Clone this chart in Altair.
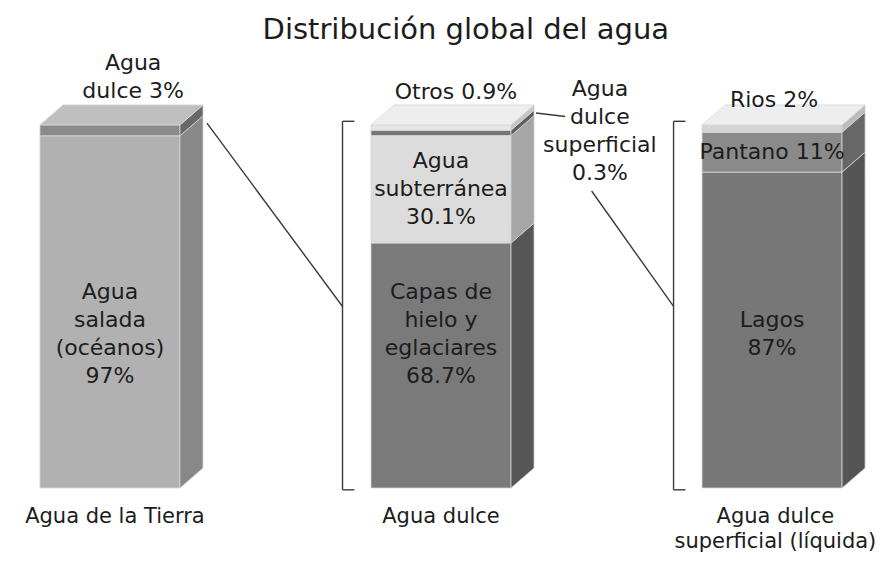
import altair as alt
import pandas as pd

# ---------------- data ----------------
bar_names = ["Agua de la Tierra", "Agua dulce", "Agua dulce\nsuperficial (líquida)"]
seg_bar = [0, 0, 1, 1, 1, 1, 2, 2, 2]
seg_names = ["Agua salada (océanos)", "Agua dulce", "Capas de hielo y eglaciares",
             "Agua subterránea", "Agua dulce superficial", "Otros",
             "Lagos", "Pantano", "Rios"]
seg_values = [97, 3, 68.7, 30.1, 0.3, 0.9, 87, 11, 2]
seg_labels = ["Agua\nsalada\n(océanos)\n97%", "Agua\ndulce 3%",
              "Capas de\nhielo y\neglaciares\n68.7%", "Agua\nsubterránea\n30.1%",
              "Agua\ndulce\nsuperficial\n0.3%", "Otros 0.9%",
              "Lagos\n87%", "Pantano 11%", "Rios 2%"]
title_text = "Distribución global del agua"

# ---------------- styles ----------------
front_colors = ["#b1b1b1", "#8a8a8a", "#7a7a7a", "#dcdcdc", "#767676", "#e6e6e6",
                "#777777", "#8a8a8a", "#d4d4d4"]
side_colors = ["#888888", "#686868", "#565656", "#a6a6a6", "#5e5e5e", "#c6c6c6",
               "#555555", "#676767", "#bcbcbc"]
top_colors = ["#bfbfbf", "#eeeeee", "#eeeeee"]
TXT = "#1c1c1c"
FONT = "DejaVu Sans"

# ---------------- layout (data units) ----------------
X_MIN, X_MAX = -0.308, 2.311
Y_MIN, Y_MAX = -17.9, 132.2
PLOT_H = 545
PX = PLOT_H / (Y_MAX - Y_MIN)          # pixels per y unit
HALF, DX, DY = 0.2115, 0.0695, 5.5
MIN_SHOW = 1.5
BR_OFF, BR_TICK = 0.086, 0.036
BOTTOM_LABEL_Y = 42.5
LINE_H = 28

# stacked geometry per bar
front_rows, side_rows, top_rows, inner_rows = [], [], [], []
seg_geo = {}
for b in range(len(bar_names)):
    idx = [i for i in range(len(seg_bar)) if seg_bar[i] == b]
    shown = [max(seg_values[i], MIN_SHOW) for i in idx]
    k = 100.0 / sum(shown)
    base = 0.0
    for j, i in enumerate(idx):
        h = shown[j] * k
        y0, y1 = base, base + h
        base = y1
        seg_geo[i] = (y0, y1)
        front_rows.append(dict(x0=b - HALF, x1=b + HALF, y0=y0, y1=y1, c=front_colors[i]))
        side_rows.append(dict(key=i, x=b + HALF, lo=y0, hi=y1, c=side_colors[i]))
        side_rows.append(dict(key=i, x=b + HALF + DX, lo=y0 + DY, hi=y1 + DY, c=side_colors[i]))
    t = base
    for (xx, lo, hi) in [(b - HALF, t, t), (b - HALF + DX, t, t + DY),
                         (b + HALF, t, t + DY), (b + HALF + DX, t + DY, t + DY)]:
        top_rows.append(dict(key=b, x=xx, lo=lo, hi=hi, c=top_colors[b]))

inside = [0, 2, 3, 6, 7]
for i in inside:
    y0, y1 = seg_geo[i]
    yy = BOTTOM_LABEL_Y if y0 == 0 else (y0 + y1) / 2
    n = seg_labels[i].count("\n") + 1
    yy += (n - 1) / 2 * LINE_H / PX   # centre the whole block on yy
    inner_rows.append(dict(x=seg_bar[i], y=yy, t=seg_labels[i]))

# outside labels: (segment, dx from bar centre, first baseline y)
outer_pos = [(1, 0.07, 115.0), (5, 0.045, 107.2), (4, 0.48, 108.0), (8, 0.006, 105.0)]
outer_rows = [dict(x=seg_bar[i] + dx, y=yy, t=seg_labels[i]) for (i, dx, yy) in outer_pos]

bottom_dx = [0.015, 0.0, 0.01]
bottom_rows = [dict(x=b + bottom_dx[b], y=-9.64, t=bar_names[b]) for b in range(len(bar_names))]

# brackets for bars 1 and 2
rule_rows = []
for b in [1, 2]:
    bx = b - HALF - BR_OFF
    rule_rows.append(dict(x=bx, x2=bx, y=-0.5, y2=101.0))
    rule_rows.append(dict(x=bx, x2=bx + BR_TICK, y=-0.5, y2=-0.5))
    rule_rows.append(dict(x=bx, x2=bx + BR_TICK, y=101.0, y2=101.0))
# connecting lines
sup0, sup1 = seg_geo[4]
rule_rows.append(dict(x=HALF + DX + 0.012, x2=1 - HALF - BR_OFF, y=100.5, y2=50.0))
rule_rows.append(dict(x=1.455, x2=2 - HALF - BR_OFF, y=81.8, y2=50.0))
rule_rows.append(dict(x=1 + HALF + DX + 0.006, x2=1.375, y=(sup0 + sup1) / 2 + DY, y2=102.3))

title_rows = [dict(x=1.075, y=123.7, t=title_text)]

# ---------------- chart ----------------
xs = alt.Scale(domain=[X_MIN, X_MAX], nice=False, zero=False)
ys = alt.Scale(domain=[Y_MIN, Y_MAX], nice=False, zero=False)


def X(f):
    return alt.X(f, type="quantitative", scale=xs, axis=None)


def Y(f):
    return alt.Y(f, type="quantitative", scale=ys, axis=None, stack=None)


front = alt.Chart(pd.DataFrame(front_rows)).mark_rect(stroke="#d8d8d8", strokeWidth=0.8).encode(
    x=X("x0"), x2="x1", y=Y("y0"), y2="y1", fill=alt.Fill("c:N", scale=None))

side = alt.Chart(pd.DataFrame(side_rows)).mark_area(stroke="#d0d0d0", strokeWidth=0.8).encode(
    x=X("x"), y=Y("lo"), y2="hi", fill=alt.Fill("c:N", scale=None), detail="key:N")

top = alt.Chart(pd.DataFrame(top_rows)).mark_area(stroke="#d8d8d8", strokeWidth=0.8).encode(
    x=X("x"), y=Y("lo"), y2="hi", fill=alt.Fill("c:N", scale=None), detail="key:N")

rules = alt.Chart(pd.DataFrame(rule_rows)).mark_rule(color="#3a3a3a", strokeWidth=1.4).encode(
    x=X("x"), x2="x2", y=Y("y"), y2="y2")

inner = alt.Chart(pd.DataFrame(inner_rows)).mark_text(
    font=FONT, fontSize=22, color=TXT, lineBreak="\n", lineHeight=LINE_H,
    align="center", baseline="middle").encode(x=X("x"), y=Y("y"), text="t:N")

outer = alt.Chart(pd.DataFrame(outer_rows)).mark_text(
    font=FONT, fontSize=22, color=TXT, lineBreak="\n", lineHeight=LINE_H,
    align="center", baseline="alphabetic").encode(x=X("x"), y=Y("y"), text="t:N")

bottom = alt.Chart(pd.DataFrame(bottom_rows)).mark_text(
    font=FONT, fontSize=21, color=TXT, lineBreak="\n", lineHeight=25,
    align="center", baseline="alphabetic").encode(x=X("x"), y=Y("y"), text="t:N")

title = alt.Chart(pd.DataFrame(title_rows)).mark_text(
    font=FONT, fontSize=29, color=TXT, align="center", baseline="alphabetic").encode(
    x=X("x"), y=Y("y"), text="t:N")

chart = alt.layer(front, side, top, rules, inner, outer, bottom, title).properties(
    width=867, height=PLOT_H, padding=0, autosize="none", background="white"
).configure_view(strokeWidth=0)

chart.save("out.html", embed_options={"renderer": "svg", "actions": False})
